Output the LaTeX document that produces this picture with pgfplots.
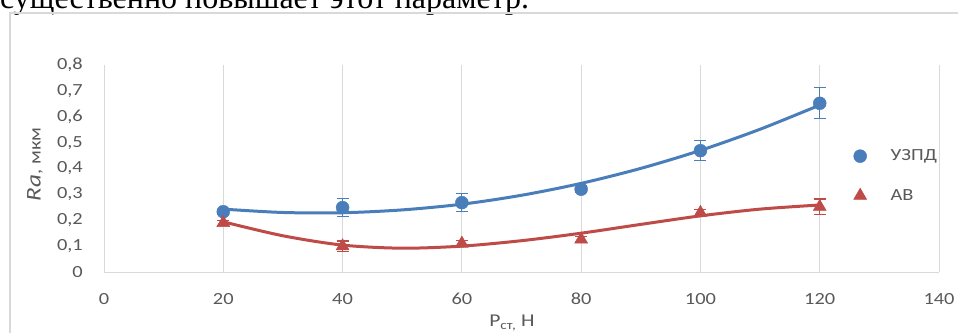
\documentclass[border=0pt]{standalone}
\usepackage{pgfplots}
\pgfplotsset{compat=1.18}
\usepackage{fontspec}
\setmainfont{Carlito}[FakeStretch=1.2]
\newfontfamily\serif{Liberation Serif}
\definecolor{ublue}{HTML}{4A7EBB}
\definecolor{ared}{HTML}{BE4B48}
\definecolor{gridgray}{HTML}{D9D9D9}
\definecolor{labgray}{HTML}{595959}
\begin{document}
\begin{tikzpicture}
\useasboundingbox (0pt,0pt) rectangle (958pt,332pt);
\clip (0pt,0pt) rectangle (958pt,332pt);
\node[anchor=base west, inner sep=0pt, font=\serif\fontsize{32}{38}\selectfont, text=black] at (0pt,323pt) {существенно повышает этот параметр.};
\draw[gridgray, line width=2pt] (10pt,319pt) rectangle (990pt,-30pt);
\begin{axis}[
 scale only axis, width=835pt, height=207pt,
 at={(104pt,60pt)}, anchor=south west,
 xmin=0, xmax=140, ymin=0, ymax=0.8,
 xtick={0,20,40,60,80,100,120,140},
 ytick={0,0.1,0.2,0.3,0.4,0.5,0.6,0.7,0.8},
 axis lines*=left, axis line style={-, gridgray, line width=1pt},
 xmajorgrids, major grid style={gridgray, line width=1pt},
 major tick length=0pt,
 /pgf/number format/use comma, /pgf/number format/assume math mode=true,
 yticklabel style={/pgf/number format/fixed, /pgf/number format/precision=1, anchor=east, inner sep=0pt, xshift=-21pt},
 xticklabel style={anchor=north, inner sep=0pt, yshift=-21pt},
 tick label style={color=labgray, font=\fontsize{17}{20}\selectfont},
 ylabel={{\fontsize{21}{24}\selectfont\itshape Ra}, мкм},
 ylabel style={at={(axis description cs:-0.0826,0.52)}, anchor=center, inner sep=0pt, color=labgray, font=\fontsize{17}{20}\selectfont},
 xlabel={P\textsubscript{ст,} Н},
 xlabel style={at={(axis description cs:0.4886,0)}, anchor=north, inner sep=0pt, yshift=-43pt, color=labgray, font=\fontsize{18}{20}\selectfont},
 legend style={draw=none, fill=none, inner sep=0pt, at={(axis cs:125.66,0.3716)}, anchor=west, row sep=23pt, font=\fontsize{17}{20}\selectfont, text=labgray,
   /tikz/every odd column/.append style={column sep=22pt}},
 legend cell align=left,
 legend image code/.code={\draw[#1] plot coordinates {(0pt,0pt)};},
 clip=false,
]
\addplot[only marks, mark=*, mark size=6.5pt, color=ublue,
 error bars/.cd, y dir=both, y explicit,
 error bar style={line width=1.2pt, ublue},
 error mark options={rotate=90, mark size=6pt, line width=1.2pt, ublue}]
 table[x=x, y=y, y error=e] {
x y e
20 0.233 0.010
40 0.249 0.035
60 0.268 0.034
80 0.320 0.014
100 0.469 0.039
120 0.652 0.060
};
\addlegendentry{УЗПД}
\addplot[only marks, mark=triangle*, mark size=7.5pt, color=ared,
 error bars/.cd, y dir=both, y explicit,
 error bar style={line width=1.2pt, ared},
 error mark options={rotate=90, mark size=6pt, line width=1.2pt, ared}]
 table[x=x, y=y, y error=e] {
x y e
20 0.190 0.010
40 0.100 0.020
60 0.110 0.012
80 0.126 0.010
100 0.229 0.012
120 0.252 0.030
};
\addlegendentry{АВ}
\addplot[forget plot, smooth, ublue, line width=3pt] coordinates {
(20,0.243) (30,0.230) (40,0.229) (50,0.240) (60,0.262) (70,0.2965) (80,0.3426) (90,0.4005) (100,0.470) (110,0.5517) (120,0.645)};
\addplot[forget plot, smooth, ared, line width=3pt] coordinates {
(20,0.194) (30,0.140) (40,0.104) (50,0.092) (60,0.100) (70,0.121) (80,0.150) (90,0.184) (100,0.217) (110,0.243) (120,0.259)};
\end{axis}
\end{tikzpicture}
\end{document}
